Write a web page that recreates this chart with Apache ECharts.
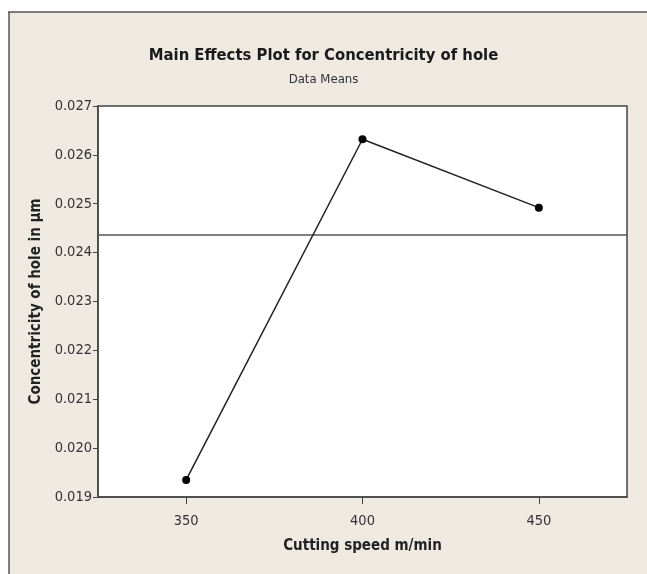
<!DOCTYPE html>
<html>
<head>
<meta charset="utf-8">
<script src="https://cdn.jsdelivr.net/npm/echarts@6/dist/echarts.min.js"></script>
<style>
html,body{margin:0;padding:0;background:#ffffff;}
#c{width:647px;height:574px;}
</style>
</head>
<body>
<div id="c"></div>
<script>
const speeds = [350, 400, 450];
const concentricity = [0.01935, 0.02632, 0.02492];
const grandMean = 0.02436;
const xTicks = [350, 400, 450];
const xRange = [325, 475];
const titleText = 'Main Effects Plot for Concentricity of hole';
const subText = 'Data Means';
const xName = 'Cutting speed m/min';
const yName = 'Concentricity of hole in µm';

const FONT = '"Liberation Sans Narrow", "DejaVu Sans Condensed", "Liberation Sans", sans-serif';
const chart = echarts.init(document.getElementById('c'), null, {renderer: 'canvas'});
chart.setOption({
  backgroundColor: '#ffffff',
  animation: false,
  graphic: [
    {type: 'rect', shape: {x: 9, y: 12, width: 640, height: 565}, style: {fill: '#EEEAE1'}, z: -10},
    {type: 'line', shape: {x1: 8, y1: 12, x2: 647, y2: 12}, style: {stroke: '#555', lineWidth: 1.5}, z: -5},
    {type: 'line', shape: {x1: 9, y1: 12, x2: 9, y2: 574}, style: {stroke: '#555', lineWidth: 1.5}, z: -5}
  ],
  title: {
    text: titleText,
    subtext: subText,
    left: 'center',
    top: 42,
    itemGap: 9,
    textStyle: {fontFamily: FONT, fontWeight: 'bold', fontSize: 16.5, color: '#1a1a1a'},
    subtextStyle: {fontFamily: FONT, fontSize: 13, color: '#333'}
  },
  grid: {left: 98, right: 20, top: 106, bottom: 77, show: true, backgroundColor: '#ffffff', borderColor: '#444', borderWidth: 1.5},
  xAxis: {
    type: 'value',
    min: xRange[0], max: xRange[1],
    name: xName,
    nameLocation: 'middle',
    nameGap: 42,
    nameTextStyle: {fontFamily: FONT, fontWeight: 'bold', fontSize: 15, color: '#222'},
    axisLine: {show: true, lineStyle: {color: '#444', width: 1.5}},
    axisTick: {show: true, inside: false, length: 7, lineStyle: {color: '#444'}, customValues: xTicks},
    axisLabel: {fontFamily: FONT, fontSize: 14.5, color: '#333', margin: 17, customValues: xTicks},
    splitLine: {show: false}
  },
  yAxis: {
    type: 'value',
    min: 0.019, max: 0.027, interval: 0.001,
    name: yName,
    nameLocation: 'middle',
    nameGap: 53,
    nameTextStyle: {fontFamily: FONT, fontWeight: 'bold', fontSize: 15, color: '#222'},
    axisLine: {show: true, lineStyle: {color: '#444', width: 1.5}},
    axisTick: {show: true, inside: false, length: 5, lineStyle: {color: '#444'}},
    axisLabel: {fontFamily: FONT, fontSize: 14.5, color: '#333', margin: 6, formatter: v => v.toFixed(3)},
    splitLine: {show: false}
  },
  series: [
    {
      type: 'line',
      data: xRange.map(x => [x, grandMean]),
      symbol: 'none',
      silent: true,
      lineStyle: {color: '#555', width: 1.5},
      z: 1
    },
    {
      type: 'line',
      data: speeds.map((s, i) => [s, concentricity[i]]),
      symbol: 'circle',
      symbolSize: 8,
      itemStyle: {color: '#000'},
      lineStyle: {color: '#222', width: 1.5},
      z: 2
    }
  ]
});
</script>
</body>
</html>
